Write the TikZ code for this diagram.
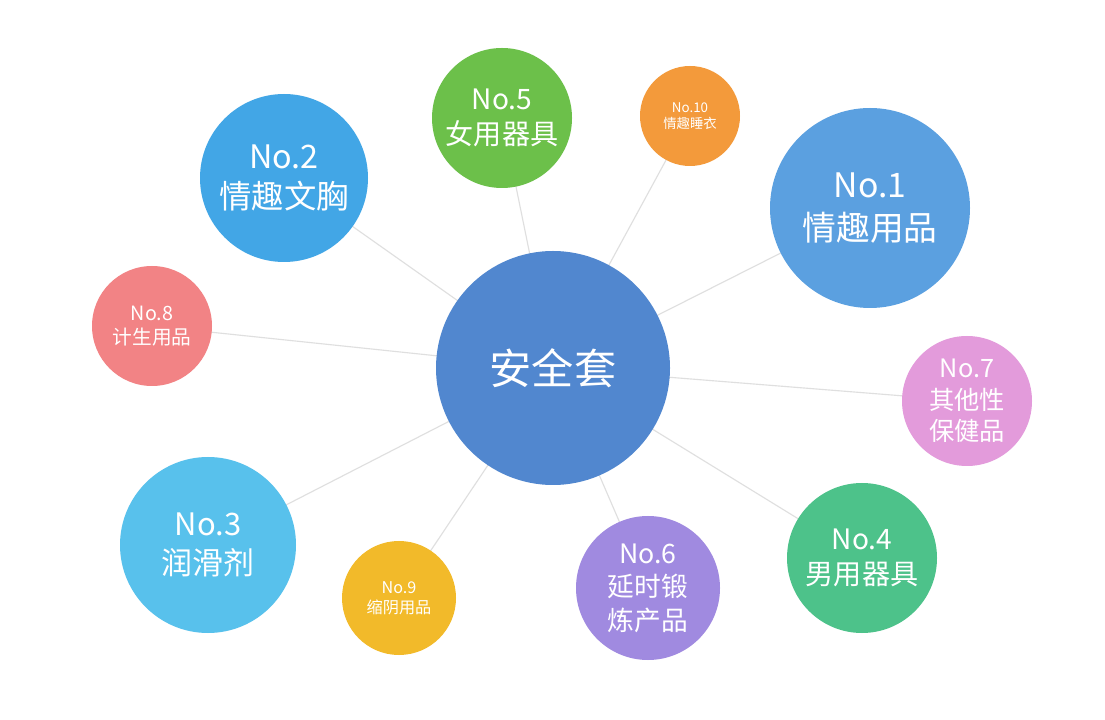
\documentclass[tikz,border=0pt]{standalone}
\usepackage{fontspec}
\setmainfont{Noto Sans CJK SC}
\begin{document}
\begin{tikzpicture}[x=0.025cm,y=-0.025cm,
  bub/.style={circle,inner sep=0pt,text=white,align=center,font=\fontsize{#1}{1.25\dimexpr#1pt\relax}\selectfont},
  link/.style={draw=gray!25,line width=0.8pt}]
\useasboundingbox (0,0) rectangle (1105,720);
\fill[white] (0,0) rectangle (1105,720);
\def\B#1#2#3#4#5#6{\fill[#4] (#2) circle (#3); \node[bub=#5] (#1) at (#2) {#6};}
\coordinate (pc) at (553,368);
\foreach \p in {(284,178),(502,118),(690,116),(870,208),(152,326),(967,401),(208,545),(399,598),(648,588),(862,558)}
  \draw[link] (pc) -- \p;
\definecolor{c0}{HTML}{5187CF}\definecolor{c2}{HTML}{42A6E6}\definecolor{c5}{HTML}{6CC04A}
\definecolor{c10}{HTML}{F39A3B}\definecolor{c1}{HTML}{5BA0E0}\definecolor{c8}{HTML}{F28385}
\definecolor{c7}{HTML}{E39BDB}\definecolor{c3}{HTML}{58C1EC}\definecolor{c9}{HTML}{F2BA2A}
\definecolor{c6}{HTML}{A08AE0}\definecolor{c4}{HTML}{4DC28A}
\B{center}{553,368}{117}{c0}{30}{安全套}
\B{n2}{284,178}{84}{c2}{23}{No.2\\情趣文胸}
\B{n5}{502,118}{70}{c5}{20}{No.5\\女用器具}
\B{n10}{690,116}{50}{c10}{9.5}{No.10\\情趣睡衣}
\B{n1}{870,208}{100}{c1}{24}{No.1\\情趣用品}
\B{n8}{152,326}{60}{c8}{14}{No.8\\计生用品}
\B{n7}{967,401}{65}{c7}{18}{No.7\\其他性\\保健品}
\B{n3}{208,545}{88}{c3}{22}{No.3\\润滑剂}
\B{n9}{399,598}{57}{c9}{11.5}{No.9\\缩阴用品}
\B{n6}{648,588}{72}{c6}{19}{No.6\\延时锻\\炼产品}
\B{n4}{862,558}{75}{c4}{20}{No.4\\男用器具}
\end{tikzpicture}
\end{document}
